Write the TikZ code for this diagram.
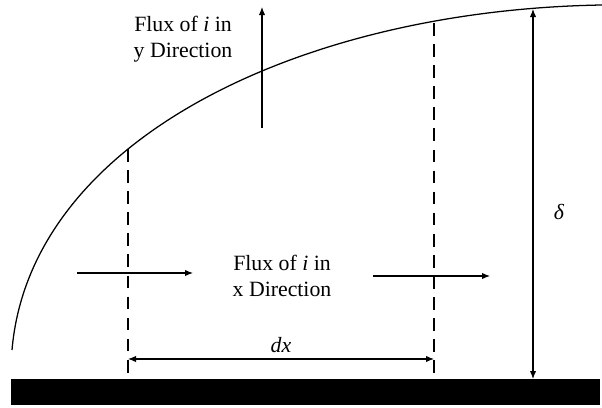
\documentclass[tikz,border=0pt]{standalone}
\usepackage{fontspec}
\setmainfont{Liberation Serif}
\usepackage{tikz}
\usetikzlibrary{arrows.meta}

\tikzset{
  fluxarrow/.style={line width=0.8pt, -{Latex[length=2mm,width=1.6mm]}},
  dimarrow/.style={line width=0.8pt, {Latex[length=2mm,width=1.6mm]}-{Latex[length=2mm,width=1.6mm]}},
  cutline/.style={line width=0.8pt, dash pattern=on 9pt off 6pt},
  fluxlabel/.style={align=center, font=\fontsize{15.5}{18.5}\selectfont, inner sep=0pt}
}

\begin{document}
\begin{tikzpicture}[x=0.025cm, y=-0.025cm]
\useasboundingbox (0,0) rectangle (602,407);
% Plate
\fill[black] (11,379) rectangle (600,405);
% Boundary layer edge
\draw[line width=0.9pt] (12,350) .. controls (30,140) and (300,10) .. (602,5);
% Control volume sides
\coordinate (cvlt) at (128,149);
\coordinate (cvlb) at (128,379);
\coordinate (cvrt) at (434,23);
\coordinate (cvrb) at (434,379);
\draw[cutline] (cvlt) -- (cvlb);
\draw[cutline] (cvrt) -- (cvrb);
% Flux in y direction
\coordinate (ytail) at (262,128);
\coordinate (yhead) at (262,7);
\draw[fluxarrow] (ytail) -- (yhead);
\node[fluxlabel] (ylabel) at (183,39) {Flux of \textit{i} in\\y Direction};
% Flux in x direction
\coordinate (xintail) at (77,273);
\coordinate (xinhead) at (193,273);
\coordinate (xouttail) at (373,276);
\coordinate (xouthead) at (490,276);
\draw[fluxarrow] (xintail) -- (xinhead);
\draw[fluxarrow] (xouttail) -- (xouthead);
\node[fluxlabel] (xlabel) at (282,276) {Flux of \textit{i} in\\x Direction};
% Width dx
\coordinate (dxl) at (128,359);
\coordinate (dxr) at (434,359);
\draw[dimarrow] (dxl) -- (dxr);
\node[fluxlabel] (dxlabel) at (281,345) {\textit{dx}};
% Thickness delta
\coordinate (dtop) at (533,9);
\coordinate (dbot) at (533,379);
\draw[dimarrow] (dbot) -- (dtop);
\node[fluxlabel] (dlabel) at (559,212) {\textit{δ}};
\end{tikzpicture}
\end{document}
